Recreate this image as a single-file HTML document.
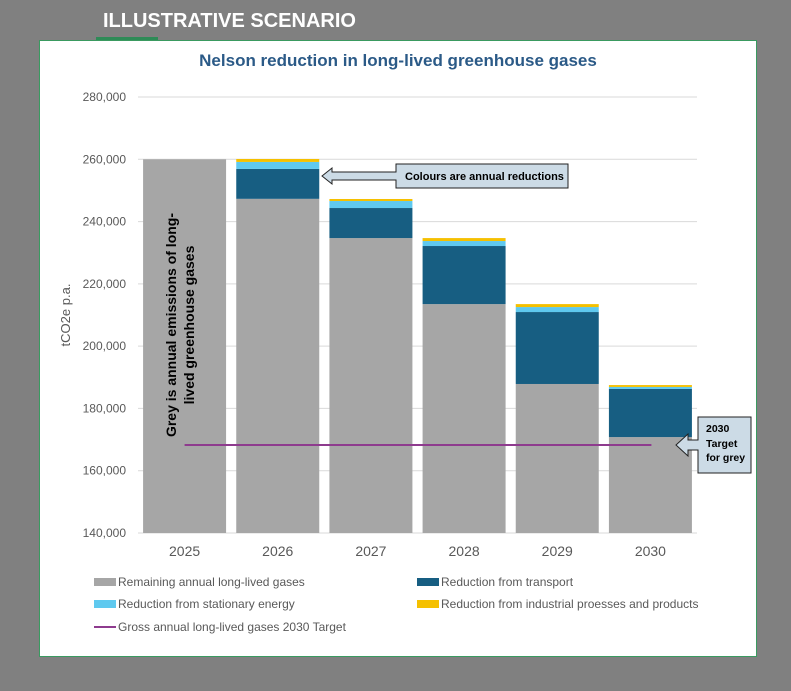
<!DOCTYPE html>
<html><head><meta charset="utf-8"><style>
body{margin:0;width:791px;height:686px;background:#808080;overflow:hidden;font-family:"Liberation Sans",sans-serif}
</style></head><body>
<svg width="791" height="686" xmlns="http://www.w3.org/2000/svg">
<rect x="0" y="0" width="791" height="686" fill="#808080"/>
<text x="103" y="27" fill="#fff" font-size="20" font-weight="bold">ILLUSTRATIVE  SCENARIO</text>
<rect x="96" y="37" width="62" height="3" fill="#2e8b57"/>
<rect x="39.5" y="40.5" width="717" height="616" fill="#fff" stroke="#3a9a60" stroke-width="1"/>
<text x="398" y="66" text-anchor="middle" fill="#2b5a87" font-size="17" font-weight="bold">Nelson reduction in long-lived greenhouse gases</text>
<g id="grid"></g>
<g id="bars"></g>
<g id="overlay"></g>
<text x="0" y="0" transform="translate(70,315) rotate(-90)" text-anchor="middle" fill="#595959" font-size="13">tCO2e p.a.</text>
<g>
<text transform="translate(182,325) rotate(-90)" text-anchor="middle" font-size="14" font-weight="bold" fill="#000"><tspan x="0" y="-6">Grey is annual emissions of long-</tspan><tspan x="0" y="12">lived greenhouse gases</tspan></text>
</g>
<g>
<polygon points="322,176 332,168 332,172 396,172 396,164 568,164 568,188 396,188 396,180 332,180 332,184" fill="#ccdbe6" stroke="#222" stroke-width="1"/>
<text x="405" y="180" font-size="11" font-weight="bold" fill="#000">Colours are annual reductions</text>
</g>
<g>
<polygon points="676,445 688,434 688,440 698,440 698,417 751,417 751,473 698,473 698,450 688,450 688,456" fill="#ccdbe6" stroke="#222" stroke-width="1"/>
<text x="706" y="432" font-size="10.5" font-weight="bold" fill="#000">2030</text>
<text x="706" y="447" font-size="10.5" font-weight="bold" fill="#000">Target</text>
<text x="706" y="461" font-size="10.5" font-weight="bold" fill="#000">for grey</text>
</g>
<g font-size="12" fill="#595959">
<g><rect x="94" y="578" width="22" height="8" fill="#a6a6a6"/><text x="118" y="586">Remaining annual long-lived gases</text></g>
<g><rect x="417" y="578" width="22" height="8" fill="#175e82"/><text x="441" y="586">Reduction from transport</text></g>
<g><rect x="94" y="600" width="22" height="8" fill="#5fc9ef"/><text x="118" y="608">Reduction from stationary energy</text></g>
<g><rect x="417" y="600" width="22" height="8" fill="#f5c000"/><text x="441" y="608">Reduction from industrial proesses and products</text></g>
<g><rect x="94" y="626" width="22" height="2" fill="#8e3b8e"/><text x="118" y="631">Gross annual  long-lived gases 2030 Target</text></g>
</g>
</svg>
<script>
const categories=["2025","2026","2027","2028","2029","2030"];
const remaining=[260000,247300,234700,213500,187850,170800];
const transport=[0,9600,9650,18650,23100,15450];
const stationary=[0,2250,2250,1600,1600,650];
const industrial=[0,950,650,950,950,600];
const target=[168250];
const yTicks=[140000,160000,180000,200000,220000,240000,260000,280000];
const NS="http://www.w3.org/2000/svg";
const yMin=140000,yMax=280000,plotTop=97,plotBot=533,plotL=138,plotR=697;
function y(v){return plotBot-(Math.max(v,yMin)-yMin)/(yMax-yMin)*(plotBot-plotTop);}
const band=(plotR-plotL)/categories.length;
function xc(i){return plotL+band*(i+0.5);}
const bw=83;
function mk(tag,attrs,parent){const e=document.createElementNS(NS,tag);for(const k in attrs)e.setAttribute(k,attrs[k]);parent.appendChild(e);return e;}
const grid=document.getElementById('grid'),bars=document.getElementById('bars'),ov=document.getElementById('overlay');
yTicks.forEach(t=>{
 const l=mk('line',{x1:plotL,x2:plotR,y1:y(t),y2:y(t),stroke:'#d9d9d9','stroke-width':1},grid);
 
 
 const tx=mk('text',{x:126,y:y(t)+4,'text-anchor':'end','font-size':12,fill:'#595959'},grid);
 tx.textContent=t.toLocaleString('en-US');
 
 
});
const series=[[remaining,'#a6a6a6','remaining'],[transport,'#175e82','transport'],[stationary,'#5fc9ef','stationary'],[industrial,'#f5c000','industrial']];
categories.forEach((c,i)=>{
 let base=0;
 series.forEach(([arr,col,nm])=>{
  const top=base+arr[i];
  if(arr[i]>0 && top>yMin){
   const r=mk('rect',{x:xc(i)-bw/2,y:y(top),width:bw,height:y(base)-y(top),fill:col},bars);
   
   
  }
  base=top;
 });
 const t=mk('text',{x:xc(i),y:556,'text-anchor':'middle','font-size':14,fill:'#595959'},bars);
 t.textContent=c;
 
 
});
const tl=mk('line',{x1:xc(0),x2:xc(5)+1,y1:y(target[0]),y2:y(target[0]),stroke:'#8e3b8e','stroke-width':2},ov);


</script>
</body></html>
